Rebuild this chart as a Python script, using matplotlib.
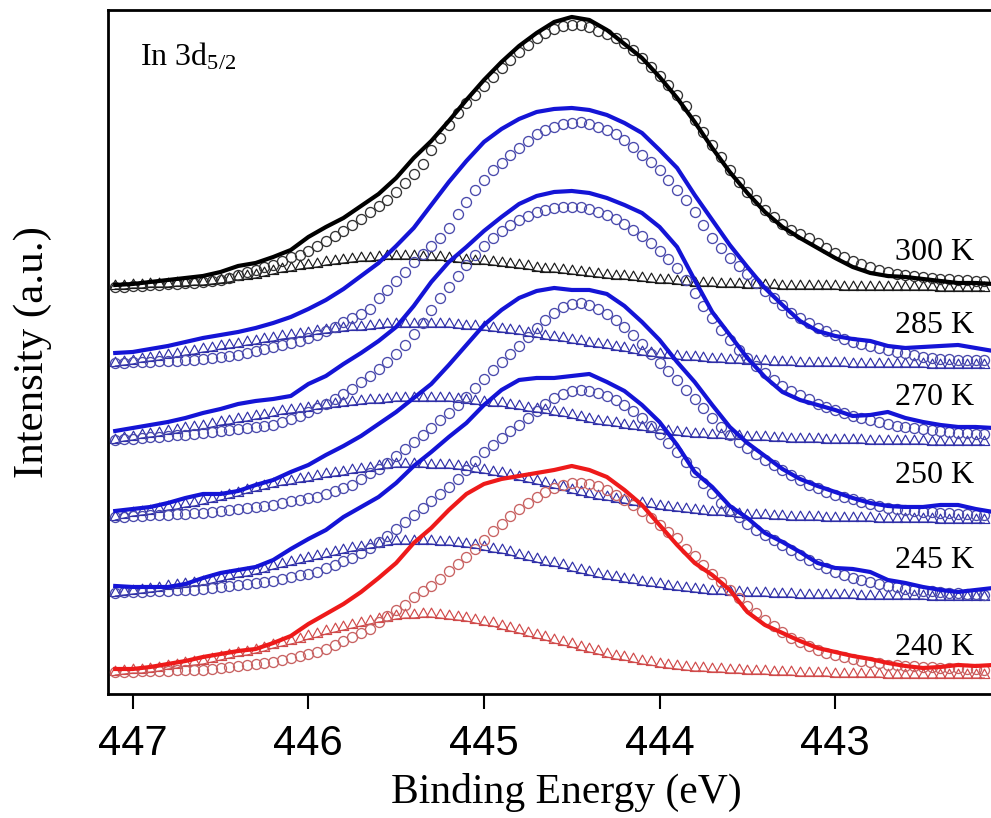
import numpy as np
import matplotlib
matplotlib.use("Agg")
import matplotlib.pyplot as plt
from matplotlib.path import Path
from matplotlib import font_manager

# ---------------- data ----------------
# energy grids (eV)
E_line = np.round(np.arange(447.1, 442.05, -0.1), 2)     # 51 points
E_fit = np.round(np.arange(447.10, 442.125, -0.05), 2)   # 100 points

temps = ["300 K", "285 K", "270 K", "250 K", "245 K", "240 K"]

# measured spectra (depth below frame top, arbitrary units)
L300 = [285,284,282,280,278,276,272,266,263,257,250,237,227,218,206,194,178,158,141,121,100,80,62,46,33,22,17,20,30,44,58,77,98,122,148,172,193,212,227,238,248,258,267,273,276,277,279,281,283,283,284]
L285 = [353,352,349,346,342,338,335,332,328,323,317,309,300,289,276,263,246,228,205,182,161,142,129,119,112,109,108,110,115,123,133,150,168,195,220,245,267,288,305,321,331,336,339,341,346,348,347,346,345,348,351]
L270 = [431,428,425,422,418,413,409,404,401,399,396,384,376,364,353,341,327,306,282,262,247,231,217,204,196,192,191,193,198,205,213,227,247,280,312,335,358,377,392,400,405,410,416,415,412,418,422,425,427,427,428]
L250 = [511,509,507,503,498,494,494,491,485,480,472,465,455,446,436,424,412,398,384,365,345,325,310,298,291,288,290,290,294,306,322,340,362,382,405,427,443,456,469,479,486,492,498,503,506,507,507,505,505,509,512]
L245 = [586,587,587,587,584,578,573,570,567,560,549,539,530,517,507,497,483,466,452,437,423,405,390,380,378,378,376,374,382,391,405,422,445,472,487,506,518,533,542,552,563,568,569,572,580,583,587,590,592,590,588]
L240 = [669,669,667,664,661,657,654,651,649,643,636,624,614,604,592,578,563,543,528,510,494,484,479,476,473,470,466,470,477,490,505,525,545,563,575,590,612,625,633,641,648,652,656,659,663,666,668,667,665,666,665]

# main component (circles)
C300 = [287,287,286,286,285,285,284,284,283,283,282,281,280,278,275,272,270,267,265,261,
        257,255,251,246,241,236,231,225,219,212,206,200,192,183,174,164,150,138,125,113,
        103,95,86,77,68,60,52,45,38,33,29,26,25,25,27,31,34,38,43,50,
        58,67,76,85,95,106,120,132,145,157,170,182,192,200,210,217,224,230,234,238,
        243,248,253,257,261,264,267,270,272,274,275,276,277,278,279,279,280,280,281,281]
C285 = [363,363,362,362,362,361,361,361,360,360,359,358,357,356,355,353,351,349,347,345,
        343,341,338,335,331,327,322,318,314,309,298,290,281,272,262,254,246,238,228,214,
        202,190,180,170,163,155,148,141,134,130,127,124,123,122,124,127,130,134,140,147,
        155,162,170,180,190,200,212,225,238,248,258,266,274,283,291,298,305,313,318,323,
        328,331,335,339,342,344,346,348,350,352,353,355,357,358,359,359,360,360,360,360]
C270 = [440,439,439,438,437,437,436,435,435,434,433,432,431,430,429,428,427,426,425,422,
        419,416,412,408,404,399,394,389,382,376,369,362,354,345,334,323,310,298,287,276,
        265,255,246,238,231,225,220,216,212,210,208,207,207,207,209,212,215,219,224,230,
        236,243,251,259,268,280,293,306,318,330,340,350,358,366,373,380,386,391,395,399,
        404,407,410,413,416,418,420,422,424,426,427,428,429,430,431,432,433,433,434,434]
C250 = [517,517,516,516,515,515,515,514,514,513,513,512,511,510,509,508,507,506,505,503,
        501,500,498,497,494,491,488,485,479,473,469,463,456,449,442,435,428,420,413,405,
        397,388,379,370,362,354,346,337,328,320,313,307,304,303,305,309,314,320,327,335,
        344,354,363,371,380,390,399,408,418,427,435,442,448,454,460,465,470,475,480,485,
        488,492,495,497,499,502,504,506,508,509,510,511,512,512,513,513,514,514,515,515]
C245 = [593,592,592,592,591,591,591,590,590,590,589,588,587,586,585,584,583,582,581,579,
        577,575,574,572,568,565,561,558,553,548,542,536,529,522,515,508,501,494,487,479,
        470,461,452,445,438,431,425,418,411,404,398,394,391,390,391,393,396,400,405,411,
        418,426,434,443,452,462,472,483,493,503,510,517,524,530,535,540,545,550,555,560,
        564,568,572,575,578,580,582,584,586,587,589,590,591,591,592,593,593,594,594,595]
C240 = [672,672,672,671,671,671,671,670,670,670,670,669,668,667,666,665,664,663,662,660,
        658,656,654,652,649,645,641,637,633,629,622,616,610,605,597,591,586,579,571,564,
        557,549,540,531,524,516,509,503,497,492,488,485,483,483,484,486,490,495,500,505,
        511,518,525,532,538,549,556,565,574,582,590,598,606,613,620,626,632,638,642,646,
        650,653,655,657,659,661,662,663,665,665,666,666,667,667,668,668,668,669,669,670]

# second component (triangles)
T300 = [289,289,288,288,287,287,287,286,286,285,285,284,283,282,280,279,278,276,274,272,
        271,269,268,267,265,264,263,262,261,261,260,259,259,259,259,260,260,260,261,262,
        263,264,264,265,266,267,268,269,271,272,272,273,274,275,276,277,278,279,279,280,
        281,282,283,283,284,285,286,286,286,287,287,287,288,288,288,288,289,289,289,289,
        289,289,289,290,290,290,290,290,290,290,290,290,290,290,291,291,291,291,291,291]
T285 = [366,365,364,362,361,360,358,357,355,354,352,351,349,348,347,345,344,342,341,339,
        338,337,336,334,333,332,331,330,330,329,328,327,327,327,327,327,327,327,327,328,
        329,329,330,331,332,333,334,336,337,339,340,341,343,344,346,347,348,350,351,353,
        355,356,357,358,359,360,360,361,362,362,363,363,364,364,364,365,365,365,366,366,
        366,366,366,366,367,367,367,367,367,367,367,367,367,368,368,368,368,368,368,368]
T270 = [443,441,440,438,437,436,434,433,431,430,429,427,425,424,422,421,419,418,416,414,
        413,412,411,409,408,407,406,405,404,403,403,402,401,401,401,401,401,401,401,402,
        403,404,405,406,406,408,409,411,412,413,415,416,418,420,422,424,425,426,428,429,
        430,432,433,434,435,436,437,437,438,438,439,439,440,440,440,441,441,442,442,442,
        442,443,443,443,443,443,444,444,444,444,444,444,444,445,445,445,445,445,445,445]
T250 = [520,518,516,515,514,512,510,509,507,506,504,502,500,498,496,493,491,489,487,485,
        484,482,481,479,477,476,475,473,472,471,469,468,467,467,467,467,468,468,468,469,
        470,472,473,475,476,478,480,482,484,486,488,490,493,495,497,499,500,502,503,505,
        506,507,509,510,511,512,513,514,515,515,516,517,518,518,518,519,519,520,520,520,
        520,521,521,521,521,521,521,522,522,522,522,522,522,522,523,523,523,523,523,523]
T245 = [596,595,594,593,592,591,589,588,587,586,585,583,581,579,577,576,574,572,569,567,
        565,563,561,559,557,555,553,551,550,548,547,545,544,544,544,544,544,545,545,546,
        547,548,550,552,553,555,558,560,562,565,566,568,571,573,575,577,579,580,582,583,
        585,586,587,589,590,591,592,593,594,594,595,595,596,596,596,597,597,597,598,598,
        598,598,598,598,598,599,599,599,599,599,599,599,599,600,600,600,600,600,600,600]
T240 = [675,674,673,673,672,671,669,668,666,665,664,662,660,658,656,655,653,651,648,646,
        644,642,639,637,634,632,630,628,626,624,622,621,619,618,618,617,617,618,619,620,
        621,623,625,626,629,631,633,636,638,640,643,645,647,650,652,654,657,659,660,662,
        664,665,667,668,669,670,671,671,672,672,673,673,674,674,674,675,675,675,676,676,
        676,676,677,677,677,677,677,677,678,678,678,678,678,678,678,678,678,678,678,678]

TOP = 700.0
def au(v):
    return TOP - np.asarray(v, dtype=float)

# ---------------- style ----------------
names = {f.name for f in font_manager.fontManager.ttflist}
if "Liberation Sans Narrow" in names:
    tick_family, tick_size = "Liberation Sans Narrow", 34
else:
    tick_family, tick_size = "Liberation Sans", 30

plt.rcParams["mathtext.fontset"] = "custom"
plt.rcParams["mathtext.rm"] = "Liberation Serif"
plt.rcParams["mathtext.it"] = "Liberation Serif:italic"

serif = "Liberation Serif"

groups = [
    (temps[0], L300, C300, T300, "#000000", "#333333", "#1a1a1a"),
    (temps[1], L285, C285, T285, "#1414d6", "#4a4aac", "#3030a8"),
    (temps[2], L270, C270, T270, "#1414d6", "#4a4aac", "#3030a8"),
    (temps[3], L250, C250, T250, "#1414d6", "#4a4aac", "#3030a8"),
    (temps[4], L245, C245, T245, "#1414d6", "#4a4aac", "#3030a8"),
    (temps[5], L240, C240, T240, "#ee1a1a", "#c86262", "#d04a4a"),
]
label_baseline = [260, 333, 405, 483, 568, 655]

tri = Path([(-1, 0), (1, 0), (0, 1.8), (-1, 0)],
           [Path.MOVETO, Path.LINETO, Path.LINETO, Path.CLOSEPOLY])

fig = plt.figure(figsize=(9.91, 8.18), dpi=100)
ax = fig.add_axes([0.109, 0.1516, 0.9001, 0.8356])

for (name, L, C, T, lc, cc, tc), yb in zip(groups, label_baseline):
    ax.plot(E_fit, au(T), color=tc, lw=0.8, marker=tri, ms=13.5,
            mfc="none", mec=tc, mew=0.85, zorder=2)
    ax.plot(E_fit, au(C), ls="none", marker="o", ms=7.2,
            mfc="none", mec=cc, mew=0.95, zorder=3)
    ax.plot(E_line, au(L), color=lc, lw=3.0, solid_joinstyle="round", zorder=4)
    ax.text(442.66, TOP - yb, name, family=serif, fontsize=23,
            ha="left", va="baseline", zorder=5)

ax.text(446.958, TOP - 66, r"In 3d$_{\mathrm{5/2}}$", family=serif,
        fontsize=23, ha="left", va="baseline")

ax.set_xlim(447.141, 442.061)
ax.set_ylim(TOP - 694, TOP - 10.5)
ax.set_yticks([])
ax.set_xticks([447, 446, 445, 444, 443])
ax.set_xticklabels(["447", "446", "445", "444", "443"],
                   family=tick_family, fontsize=tick_size)
ax.tick_params(axis="x", direction="out", length=10.8, width=1.5, pad=11)
for side in ["left", "top", "bottom"]:
    ax.spines[side].set_linewidth(2.0)
ax.spines["right"].set_visible(False)

fig.text(0.572, 0.0183, "Binding Energy (eV)", family=serif, fontsize=30,
         ha="center", va="baseline")
fig.text(0.0333, 0.5697, "Intensity (a.u.)", family=serif, fontsize=31,
         ha="center", va="center", rotation=90)

fig.savefig("out.png", dpi=100)
